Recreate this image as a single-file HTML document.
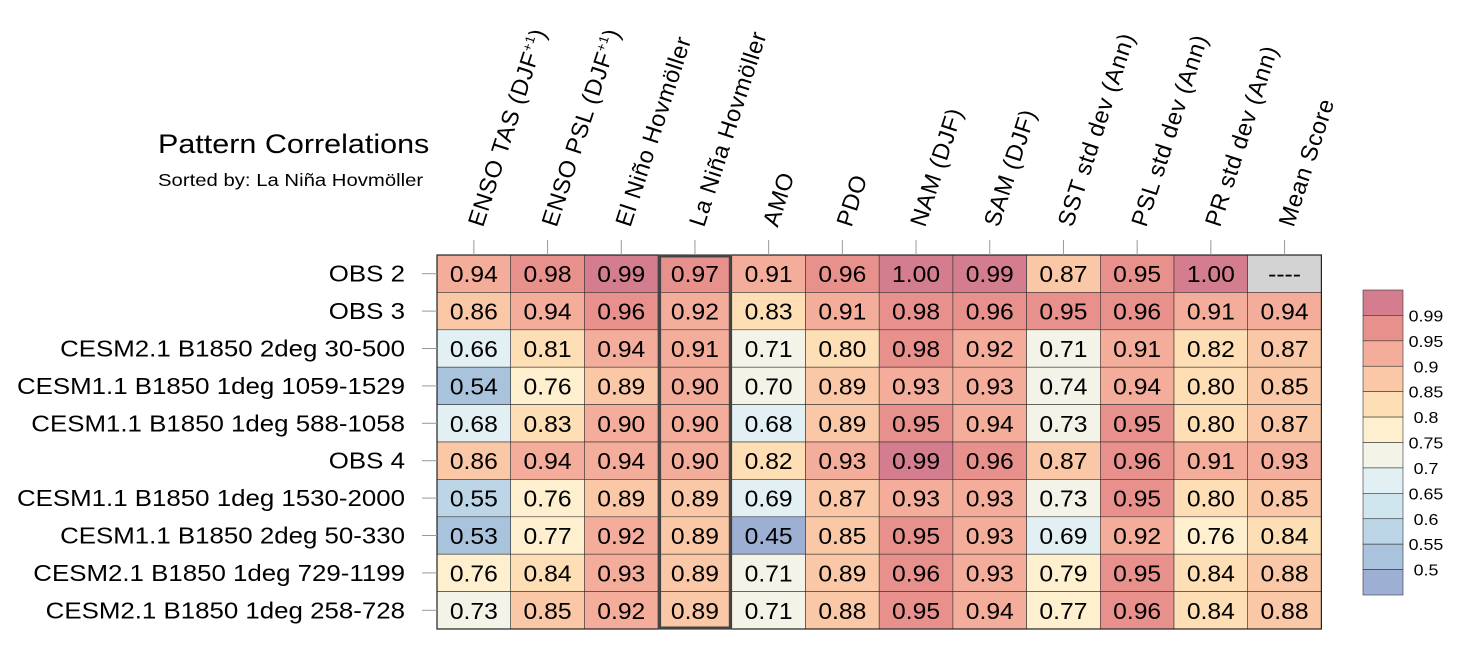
<!DOCTYPE html>
<html><head><meta charset="utf-8"><style>
html,body{margin:0;padding:0;background:#fff;}
svg{display:block;font-family:"Liberation Sans",Arial,sans-serif;}
</style></head><body>
<svg id="chart" width="1469" height="651" viewBox="0 0 1469 651" xmlns="http://www.w3.org/2000/svg">
<text class="sx" data-sx="1.13" x="158" y="153" font-size="27" fill="#000">Pattern Correlations</text>
<text class="sx" data-sx="1.16" x="158" y="186" font-size="17.5" fill="#000">Sorted by: La Niña Hovmöller</text>
<g id="cells"></g><g id="labels"></g><g id="legend"></g>
</svg>
<script>
const columns=["ENSO TAS (DJF+1)","ENSO PSL (DJF+1)","El Niño Hovmöller","La Niña Hovmöller","AMO","PDO","NAM (DJF)","SAM (DJF)","SST std dev (Ann)","PSL std dev (Ann)","PR std dev (Ann)","Mean Score"];
const rows=["OBS 2","OBS 3","CESM2.1 B1850 2deg 30-500","CESM1.1 B1850 1deg 1059-1529","CESM1.1 B1850 1deg 588-1058","OBS 4","CESM1.1 B1850 1deg 1530-2000","CESM1.1 B1850 2deg 50-330","CESM2.1 B1850 1deg 729-1199","CESM2.1 B1850 1deg 258-728"];
const values=[
[0.94,0.98,0.99,0.97,0.91,0.96,1.00,0.99,0.87,0.95,1.00,null],
[0.86,0.94,0.96,0.92,0.83,0.91,0.98,0.96,0.95,0.96,0.91,0.94],
[0.66,0.81,0.94,0.91,0.71,0.80,0.98,0.92,0.71,0.91,0.82,0.87],
[0.54,0.76,0.89,0.90,0.70,0.89,0.93,0.93,0.74,0.94,0.80,0.85],
[0.68,0.83,0.90,0.90,0.68,0.89,0.95,0.94,0.73,0.95,0.80,0.87],
[0.86,0.94,0.94,0.90,0.82,0.93,0.99,0.96,0.87,0.96,0.91,0.93],
[0.55,0.76,0.89,0.89,0.69,0.87,0.93,0.93,0.73,0.95,0.80,0.85],
[0.53,0.77,0.92,0.89,0.45,0.85,0.95,0.93,0.69,0.92,0.76,0.84],
[0.76,0.84,0.93,0.89,0.71,0.89,0.96,0.93,0.79,0.95,0.84,0.88],
[0.73,0.85,0.92,0.89,0.71,0.88,0.95,0.94,0.77,0.96,0.84,0.88]];
const levels=[0.5,0.55,0.6,0.65,0.7,0.75,0.8,0.85,0.9,0.95,0.99];
const levelLabels=["0.5","0.55","0.6","0.65","0.7","0.75","0.8","0.85","0.9","0.95","0.99"];
const palette=["#9DAFD3","#A9C3DC","#BCD6E8","#D0E6EF","#E2F0F4","#F3F3E8","#FEEFCF","#FDDEB5","#FAC8A6","#F3AD9A","#E8908B","#D47D8E"];
const highlightCol=3;
const NS="http://www.w3.org/2000/svg";
const X0=437,Y0=255,CW=73.7,RH=37.4;
const xPos=i=>X0+i*CW, yPos=j=>Y0+j*RH;
function color(v){let k=0;for(let i=0;i<levels.length;i++){if(v>=levels[i]-1e-9)k=i+1;}return palette[k];}
function mk(tag,attrs,parent){const e=document.createElementNS(NS,tag);for(const k in attrs)e.setAttribute(k,attrs[k]);parent.appendChild(e);return e;}
const cells=document.getElementById('cells'),labels=document.getElementById('labels'),legend=document.getElementById('legend');
values.forEach((row,j)=>{row.forEach((v,i)=>{
 const r=mk('rect',{x:xPos(i),y:yPos(j),width:CW,height:RH,fill:v==null?'#D3D3D3':color(v),stroke:'#333','stroke-width':0.6},cells);
 
 
 const t=mk('text',{x:xPos(i)+CW/2,y:yPos(j)+RH/2+8.5,'text-anchor':'middle','font-size':23.5,fill:'#000',class:'sx','data-sx':'1.05'},cells);
 
 
 t.textContent=v==null?'----':v.toFixed(2);
});});
const border=mk('rect',{x:X0,y:Y0,width:CW*columns.length,height:RH*rows.length,fill:'none',stroke:'#222','stroke-width':1.2},cells);


const hl=mk('rect',{x:xPos(highlightCol)+1.5,y:Y0+1,width:CW-3,height:RH*rows.length-2,fill:'none',stroke:'#444','stroke-width':3},cells);


columns.forEach((c,i)=>{
 const cx=xPos(i)+CW/2;
 const tk=mk('line',{x1:cx,x2:cx,y1:240,y2:Y0,stroke:'#999','stroke-width':1},labels);
 
 
 const t=mk('text',{x:0,y:0,'font-size':23.5,'letter-spacing':'0.6',fill:'#000',transform:`translate(${cx+9},228) rotate(-72)`},labels);
 
 
 const m=c.match(/^(.*)\(DJF\+1\)$/);
 if(m){t.textContent=m[1]+'(DJF';const s=mk('tspan',{'font-size':13,dy:-9},t);s.textContent='+1';const s2=mk('tspan',{dy:9},t);s2.textContent=')';}
 else t.textContent=c;
});
rows.forEach((r,j)=>{
 const cy=yPos(j)+RH/2;
 const tk=mk('line',{x1:422,x2:X0,y1:cy,y2:cy,stroke:'#999','stroke-width':1},labels);
 
 
 const t=mk('text',{x:405,y:cy+8,'text-anchor':'end','font-size':23.5,fill:'#000',class:'sx','data-sx':'1.1'},labels);
 
 
 t.textContent=r;
});
const LX=1363,LW=40,LTop=290,LH=(595-290)/palette.length;
palette.forEach((col,k)=>{
 const idx=palette.length-1-k;
 const r=mk('rect',{x:LX,y:LTop+k*LH,width:LW,height:LH,fill:palette[idx],stroke:'#333','stroke-width':0.6},legend);
 
 
});
levelLabels.forEach((lab,i)=>{
 const y=LTop+(palette.length-1-i)*LH;
 const t=mk('text',{x:1426,y:y+6,'text-anchor':'middle','font-size':15.5,fill:'#000',class:'sx','data-sx':'1.15'},legend);
 
 
 t.textContent=lab;
});
document.querySelectorAll('text.sx').forEach(t=>{
 const f=parseFloat(t.getAttribute('data-sx'));
 const w=t.getComputedTextLength();
 t.setAttribute('textLength',(w*f).toFixed(1));
 t.setAttribute('lengthAdjust','spacingAndGlyphs');
});
</script>
</body></html>
